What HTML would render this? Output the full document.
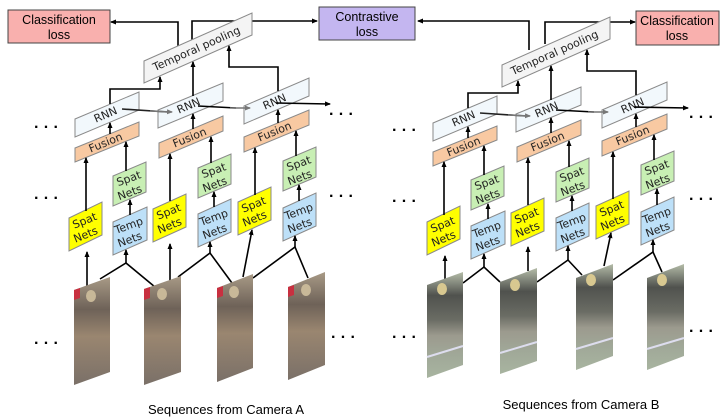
<!DOCTYPE html>
<html><head><meta charset="utf-8"><style>
html,body{margin:0;padding:0;background:#fff;}
svg{display:block;}
text{font-family:"Liberation Sans",sans-serif;}
.s{stroke:#8a8a8a;stroke-width:1;}
.l{stroke:#000;stroke-width:1.6;fill:none;}
.g{stroke:#777;stroke-width:1.4;fill:none;}
.t{font-size:11px;fill:#222;text-anchor:middle;font-family:"DejaVu Sans",sans-serif;}
</style></head><body>
<svg width="725" height="419" viewBox="0 0 725 419" xmlns="http://www.w3.org/2000/svg">
<defs>
<marker id="a" markerWidth="6" markerHeight="6" refX="5" refY="3" orient="auto" markerUnits="userSpaceOnUse"><path d="M0,0.5 L6,3 L0,5.5z" fill="#000"/></marker>
<marker id="ag" markerWidth="6" markerHeight="6" refX="5" refY="3" orient="auto" markerUnits="userSpaceOnUse"><path d="M0,0.5 L6,3 L0,5.5z" fill="#777"/></marker>
<linearGradient id="imA" x1="0" y1="0" x2="0" y2="1">
<stop offset="0" stop-color="#a89a86"/><stop offset="0.3" stop-color="#6e6258"/><stop offset="0.55" stop-color="#9a8670"/><stop offset="1" stop-color="#7a7068"/></linearGradient>
<linearGradient id="imB" x1="0" y1="0" x2="0" y2="1">
<stop offset="0" stop-color="#b4bca8"/><stop offset="0.22" stop-color="#50524e"/><stop offset="0.45" stop-color="#6a6c64"/><stop offset="0.6" stop-color="#9c9a8e"/><stop offset="0.78" stop-color="#a0a898"/><stop offset="1" stop-color="#a8b4a0"/></linearGradient>
</defs>

<rect x="8" y="10" width="102" height="33" fill="#f9b0ae" stroke="#444" stroke-width="1"/>
<text x="59" y="24" font-size="12.5" text-anchor="middle">Classification</text>
<text x="59" y="39" font-size="12.5" text-anchor="middle">loss</text>
<rect x="319" y="7" width="96" height="33" fill="#c4b6f0" stroke="#444" stroke-width="1"/>
<text x="367" y="21" font-size="12.5" text-anchor="middle">Contrastive</text>
<text x="367" y="36" font-size="12.5" text-anchor="middle">loss</text>
<rect x="636" y="11" width="83" height="34" fill="#f9b0ae" stroke="#444" stroke-width="1"/>
<text x="677" y="25" font-size="12.5" text-anchor="middle">Classification</text>
<text x="677" y="40" font-size="12.5" text-anchor="middle">loss</text>

<polyline class="l" points="178,46 178,22 111,22" marker-end="url(#a)"/>
<polyline class="l" points="192,40 192,21 317,21" marker-end="url(#a)"/>
<polyline class="l" points="529,50 529,21 418,21" marker-end="url(#a)"/>
<polyline class="l" points="545,44 545,22 635,22" marker-end="url(#a)"/>

<g id="grp">
<polygon class="s" fill="#f4f4f4" points="144,83 144,61 252,13 252,35"/>
<text class="t" transform="translate(198,52) rotate(-24)">Temporal pooling</text>
<polygon class="s" fill="#f2f8fc" points="75,137 75,119 139,92 139,110"/>
<text class="t" transform="translate(107,118) rotate(-23)">RNN</text>
<polygon class="s" fill="#f2f8fc" points="158,128 158,110 223,83 223,101"/>
<text class="t" transform="translate(190,109) rotate(-23)">RNN</text>
<polygon class="s" fill="#f2f8fc" points="244,124 244,106 309,78 309,96"/>
<text class="t" transform="translate(276,105) rotate(-23)">RNN</text>
<polygon class="s" fill="#f8c9a2" points="75,162 75,148 139,122 139,136"/>
<text class="t" transform="translate(107,146) rotate(-22)">Fusion</text>
<polygon class="s" fill="#f8c9a2" points="159,158 159,143 223,116 223,131"/>
<text class="t" transform="translate(191,141) rotate(-22)">Fusion</text>
<polygon class="s" fill="#f8c9a2" points="244,152 244,137 309,110 309,125"/>
<text class="t" transform="translate(276,135) rotate(-22)">Fusion</text>

<polygon class="s" fill="#ffff00" points="69,251 69,218 102,202 102,235"/>
<text class="t" transform="translate(86,224) rotate(-22)">Spat</text><text class="t" transform="translate(87,238) rotate(-22)">Nets</text>
<polygon class="s" fill="#ffff00" points="153,242 153,209 186,194 186,227"/>
<text class="t" transform="translate(170,215) rotate(-22)">Spat</text><text class="t" transform="translate(171,229) rotate(-22)">Nets</text>
<polygon class="s" fill="#ffff00" points="238,235 238,202 271,187 271,220"/>
<text class="t" transform="translate(255,208) rotate(-22)">Spat</text><text class="t" transform="translate(256,222) rotate(-22)">Nets</text>

<polygon class="s" fill="#c8efb4" points="113,206 113,176 146,162 146,192"/>
<text class="t" transform="translate(130,182) rotate(-20)">Spat</text><text class="t" transform="translate(131,196) rotate(-20)">Nets</text>
<polygon class="s" fill="#c8efb4" points="198,198 198,168 231,154 231,184"/>
<text class="t" transform="translate(215,174) rotate(-20)">Spat</text><text class="t" transform="translate(216,188) rotate(-20)">Nets</text>
<polygon class="s" fill="#c8efb4" points="283,191 283,161 316,147 316,177"/>
<text class="t" transform="translate(300,167) rotate(-20)">Spat</text><text class="t" transform="translate(301,181) rotate(-20)">Nets</text>

<polygon class="s" fill="#bde0f8" points="113,255 113,222 147,207 147,240"/>
<text class="t" font-size="10" transform="translate(130,229) rotate(-20)">Temp</text><text class="t" font-size="10" transform="translate(131,243) rotate(-20)">Nets</text>
<polygon class="s" fill="#bde0f8" points="198,247 198,214 231,199 231,232"/>
<text class="t" font-size="10" transform="translate(215,221) rotate(-20)">Temp</text><text class="t" font-size="10" transform="translate(216,235) rotate(-20)">Nets</text>
<polygon class="s" fill="#bde0f8" points="283,241 283,208 316,193 316,226"/>
<text class="t" font-size="10" transform="translate(300,215) rotate(-20)">Temp</text><text class="t" font-size="10" transform="translate(301,229) rotate(-20)">Nets</text>

<line class="l" x1="86" y1="211" x2="86" y2="158" marker-end="url(#a)"/>
<line class="l" x1="126" y1="171" x2="126" y2="142" marker-end="url(#a)"/>
<line class="l" x1="130" y1="215" x2="130" y2="200" marker-end="url(#a)"/>
<line class="l" x1="110" y1="134" x2="110" y2="123" marker-end="url(#a)"/>
<line class="l" x1="170" y1="201" x2="170" y2="154" marker-end="url(#a)"/>
<line class="l" x1="211" y1="163" x2="211" y2="137" marker-end="url(#a)"/>
<line class="l" x1="214" y1="207" x2="214" y2="192" marker-end="url(#a)"/>
<line class="l" x1="193" y1="129" x2="193" y2="114" marker-end="url(#a)"/>
<line class="l" x1="255" y1="195" x2="255" y2="148" marker-end="url(#a)"/>
<line class="l" x1="296" y1="156" x2="296" y2="131" marker-end="url(#a)"/>
<line class="l" x1="299" y1="201" x2="299" y2="185" marker-end="url(#a)"/>
<line class="l" x1="278" y1="123" x2="278" y2="110" marker-end="url(#a)"/>
<polyline class="l" points="110,104 110,89 160,89 160,77" marker-end="url(#a)"/>
<line class="l" x1="193" y1="96" x2="193" y2="62" marker-end="url(#a)"/>
<polyline class="l" points="278,91 278,67 229,67 229,46" marker-end="url(#a)"/>
<line class="l" x1="122" y1="109" x2="168" y2="112" style="stroke:#222"/>
<line class="g" x1="150" y1="111" x2="172" y2="112" marker-end="url(#ag)"/>
<line class="l" x1="198" y1="106" x2="236" y2="108"/>
<line class="g" x1="230" y1="108" x2="250" y2="108" marker-end="url(#ag)"/>
<line class="l" x1="276" y1="103" x2="330" y2="104" marker-end="url(#a)"/>
</g>
<use href="#grp" transform="translate(358,4)"/>

<line class="l" x1="87" y1="288" x2="87" y2="252" marker-end="url(#a)"/>
<polyline class="l" points="100,279 126,263 155,287"/>
<line class="l" x1="126" y1="263" x2="126" y2="250" marker-end="url(#a)"/>
<line class="l" x1="170" y1="281" x2="170" y2="244" marker-end="url(#a)"/>
<polyline class="l" points="178,277 210,253 232,283"/>
<line class="l" x1="210" y1="253" x2="210" y2="242" marker-end="url(#a)"/>
<line class="l" x1="243" y1="277" x2="252" y2="230" marker-end="url(#a)"/>
<polyline class="l" points="253,278 295,247 308,278"/>
<line class="l" x1="295" y1="247" x2="295" y2="236" marker-end="url(#a)"/>
<line class="l" x1="445" y1="279" x2="445" y2="256" marker-end="url(#a)"/>
<polyline class="l" points="463,283 484,267 500,282"/>
<line class="l" x1="484" y1="267" x2="484" y2="254" marker-end="url(#a)"/>
<line class="l" x1="528" y1="271" x2="528" y2="247" marker-end="url(#a)"/>
<polyline class="l" points="537,282 568,260 582,275"/>
<line class="l" x1="568" y1="260" x2="568" y2="246" marker-end="url(#a)"/>
<line class="l" x1="604" y1="266" x2="611" y2="233" marker-end="url(#a)"/>
<polyline class="l" points="613,280 653,252 662,272"/>
<line class="l" x1="653" y1="252" x2="653" y2="240" marker-end="url(#a)"/>

<g>
<polygon fill="url(#imA)" points="74,385 74,290 110,277 110,372"/>
<polygon fill="#c83040" points="74,300 74,290 80,288 80,298"/>
<ellipse cx="91" cy="296" rx="5" ry="6" fill="#c8b898"/>
<polygon fill="url(#imA)" points="144,385 144,289 181,276 181,372"/>
<polygon fill="#c83040" points="144,300 144,289 150,287 150,298"/>
<ellipse cx="162" cy="294" rx="5" ry="6" fill="#c8b898"/>
<polygon fill="url(#imA)" points="217,382 217,288 253,274 253,368"/>
<polygon fill="#c83040" points="217,298 217,288 223,286 223,296"/>
<ellipse cx="234" cy="292" rx="5" ry="6" fill="#c8b898"/>
<polygon fill="url(#imA)" points="288,380 288,287 325,272 325,365"/>
<polygon fill="#c83040" points="288,297 288,287 294,285 294,295"/>
<ellipse cx="306" cy="290" rx="5" ry="6" fill="#c8b898"/>
</g>
<g>
<polygon fill="url(#imB)" points="427,378 427,285 463,272 463,365"/>
<ellipse cx="442" cy="289" rx="5" ry="6" fill="#d8c890"/>
<line x1="427" y1="357" x2="463" y2="346" stroke="#dde" stroke-width="2"/>
<polygon fill="url(#imB)" points="500,374 500,282 537,268 537,361"/>
<ellipse cx="515" cy="285" rx="5" ry="6" fill="#d8c890"/>
<line x1="500" y1="353" x2="537" y2="342" stroke="#dde" stroke-width="2"/>
<polygon fill="url(#imB)" points="576,370 576,278 613,264 613,356"/>
<ellipse cx="591" cy="280" rx="5" ry="6" fill="#d8c890"/>
<line x1="576" y1="349" x2="613" y2="338" stroke="#dde" stroke-width="2"/>
<polygon fill="url(#imB)" points="647,370 647,278 684,264 684,356"/>
<ellipse cx="662" cy="280" rx="5" ry="6" fill="#d8c890"/>
<line x1="647" y1="349" x2="684" y2="338" stroke="#dde" stroke-width="2"/>
</g>

<g font-size="16" font-weight="bold" fill="#000">
<text x="34" y="132">· · ·</text>
<text x="34" y="203">· · ·</text>
<text x="34" y="348">· · ·</text>
<text x="329" y="119">· · ·</text>
<text x="329" y="201">· · ·</text>
<text x="331" y="342">· · ·</text>
<text x="392" y="135">· · ·</text>
<text x="392" y="206">· · ·</text>
<text x="392" y="342">· · ·</text>
<text x="689" y="122">· · ·</text>
<text x="689" y="204">· · ·</text>
<text x="689" y="336">· · ·</text>
</g>

<text x="226" y="414" font-size="13" text-anchor="middle">Sequences from Camera A</text>
<text x="581" y="409" font-size="13" text-anchor="middle">Sequences from Camera B</text>
</svg>
</body></html>
